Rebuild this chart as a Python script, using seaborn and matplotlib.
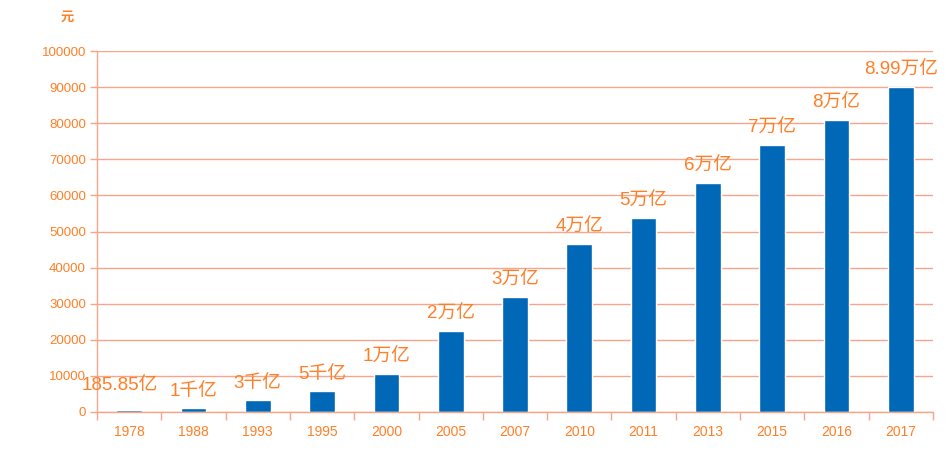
import matplotlib
matplotlib.use("Agg")
import matplotlib.pyplot as plt
import seaborn as sns
import pandas as pd

years = ["1978", "1988", "1993", "1995", "2000", "2005", "2007", "2010", "2011", "2013", "2015", "2016", "2017"]
values = [550, 1000, 3300, 5800, 10500, 22400, 31900, 46600, 53800, 63400, 74000, 80900, 89900]
labels = ["185.85亿", "1千亿", "3千亿", "5千亿", "1万亿", "2万亿", "3万亿", "4万亿", "5万亿", "6万亿", "7万亿", "8万亿", "8.99万亿"]
yticks = list(range(0, 100001, 10000))

sns.set_style("white")
plt.rcParams['font.family'] = ['Liberation Sans', 'Noto Sans CJK SC', 'DejaVu Sans']

orange = "#FF7F27"
grid_c = "#F7A58A"
bar_c = "#0068B7"

df = pd.DataFrame({"year": years, "value": values})

fig = plt.figure(figsize=(9.46, 4.54), dpi=100)
ax = fig.add_axes([97/946, 42/454, (933-97)/946, (412-51)/454])
sns.barplot(data=df, x="year", y="value", color=bar_c, width=0.4, saturation=1, ax=ax)

ax.set_xlim(-0.5, len(years) - 0.5)
ax.set_ylim(0, 100000)
ax.set_yticks(yticks)
ax.set_yticklabels([str(v) for v in yticks])
ax.yaxis.grid(True, color=grid_c, linewidth=1)
ax.set_axisbelow(True)
ax.set_xlabel("")
ax.set_ylabel("")

for s in ["top", "right"]:
    ax.spines[s].set_visible(False)
for s in ["left", "bottom"]:
    ax.spines[s].set_color(grid_c)
    ax.spines[s].set_linewidth(1)

ax.tick_params(axis="y", colors=grid_c, labelcolor=orange, labelsize=9.5, length=5, width=1, pad=3, left=True)
ax.tick_params(axis="x", which="major", length=0, labelcolor=orange, labelsize=10, pad=9)
ax.set_xticks([i - 0.5 for i in range(len(years) + 1)], minor=True)
ax.tick_params(axis="x", which="minor", length=6, width=1, color=grid_c, bottom=True)

for i, (v, lab) in enumerate(zip(values, labels)):
    if i == 0:
        xy_off = (-7, 18)
    else:
        xy_off = (0, 12)
    ax.annotate(lab, xy=(i, v), xytext=xy_off, textcoords="offset points",
                ha="center", va="center", color=orange, fontsize=13.5)

fig.text(67/946, 1 - 18/454, "元", color=orange, fontsize=9.5, ha="center", va="center",
         fontweight="bold")

fig.savefig("out.png", dpi=100)
